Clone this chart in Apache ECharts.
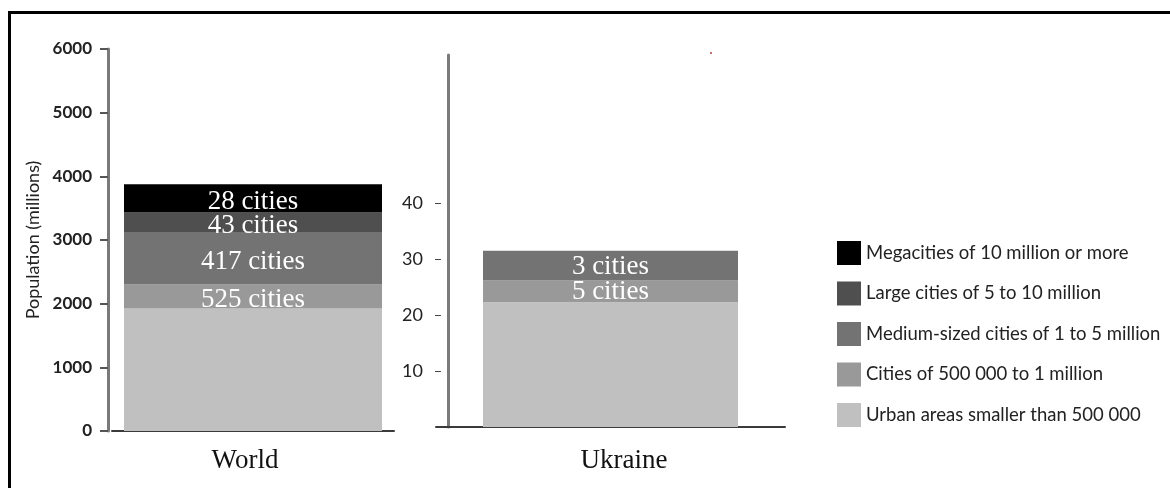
<!DOCTYPE html>
<html>
<head>
<meta charset="utf-8">
<script src="https://cdn.jsdelivr.net/npm/echarts@6/dist/echarts.min.js"></script>
<style>
html,body{margin:0;padding:0;background:#fff;}
#chart{position:absolute;left:0;top:0;width:1170px;height:488px;}
#frame{position:absolute;left:8px;top:11px;right:0;bottom:0;border-top:3px solid #000;border-left:3px solid #000;pointer-events:none;}
</style>
</head>
<body>
<div id="chart"></div>
<div id="frame"></div>
<script>
// ---- data ----
const seriesNames = [
  'Urban areas smaller than 500 000',
  'Cities of 500 000 to 1 million',
  'Medium-sized cities of 1 to 5 million',
  'Large cities of 5 to 10 million',
  'Megacities of 10 million or more'
];
const legendOrder = seriesNames.slice().reverse();
const worldValues   = [1925, 375, 815, 315, 445];   // population, millions
const ukraineValues = [22.3, 3.9, 5.3, 0, 0];       // population, millions
const worldCities   = ['', '525 cities', '417 cities', '43 cities', '28 cities'];
const ukraineCities = ['', '5 cities', '3 cities', '', ''];
const worldCategory = ['World'];
const ukraineCategory = ['Ukraine'];
const worldTicks = [0, 1000, 2000, 3000, 4000, 5000, 6000];
const ukraineTicks = [10, 20, 30, 40];
const colors = ['#c0c0c0', '#999999', '#737373', '#4f4f4f', '#000000'];

const chart = echarts.init(document.getElementById('chart'), null, {renderer: 'canvas'});

const labelStyle = {
  show: true, position: 'inside', color: '#ffffff',
  fontFamily: 'Liberation Serif', fontSize: 27, offset: [0, 3]
};

const series = [];
seriesNames.forEach((name, i) => {
  series.push({
    name, type: 'bar', stack: 'world', xAxisIndex: 0, yAxisIndex: 0,
    barWidth: 258, itemStyle: {color: colors[i]},
    label: Object.assign({}, labelStyle, {formatter: () => worldCities[i]}),
    data: [worldValues[i]]
  });
});
seriesNames.forEach((name, i) => {
  series.push({
    name, type: 'bar', stack: 'ukraine', xAxisIndex: 1, yAxisIndex: 1,
    barWidth: 255, itemStyle: {color: colors[i]},
    label: Object.assign({}, labelStyle, {offset: [0, 1], formatter: () => ukraineCities[i]}),
    data: [ukraineValues[i]]
  });
});

chart.setOption({
  animation: false,
  backgroundColor: '#ffffff',
  grid: [
    {left: 112, top: 49, width: 282, height: 382},
    {left: 436, top: 55, width: 349, height: 372}
  ],
  xAxis: [
    {gridIndex: 0, type: 'category', data: worldCategory,
     axisLine: {lineStyle: {color: '#3a3a3a', width: 2}}, axisTick: {show: false},
     axisLabel: {color: '#111', fontFamily: 'Liberation Serif', fontSize: 27, margin: 16, padding: [0, 16, 0, 0]}},
    {gridIndex: 1, type: 'category', data: ukraineCategory,
     axisLine: {lineStyle: {color: '#3a3a3a', width: 2}}, axisTick: {show: false},
     axisLabel: {color: '#111', fontFamily: 'Liberation Serif', fontSize: 27, margin: 20, padding: [0, 0, 0, 27]}}
  ],
  yAxis: [
    {gridIndex: 0, type: 'value', position: 'left', min: 0, max: 6000, interval: 1000, offset: 4,
     name: 'Population (millions)', nameLocation: 'middle', nameGap: 66,
     nameTextStyle: {color: '#222', fontFamily: 'Lato', fontSize: 18},
     axisLine: {show: true, lineStyle: {color: '#7a7a7a', width: 3}},
     axisTick: {show: true, length: 8, lineStyle: {color: '#555', width: 2}},
     axisLabel: {color: '#222', fontFamily: 'Lato', fontWeight: 'bold', fontSize: 17, margin: 16,
                 customValues: worldTicks, formatter: v => String(v)},
     splitLine: {show: false}},
    {gridIndex: 1, type: 'value', position: 'left', min: 0, max: 66.5, offset: -12,
     axisLine: {show: true, lineStyle: {color: '#7a7a7a', width: 3}},
     axisTick: {show: false}, axisLabel: {show: false}, splitLine: {show: false}},
    {gridIndex: 1, type: 'value', position: 'left', min: 0, max: 66.5, offset: -5,
     axisLine: {show: false},
     axisTick: {show: true, length: 6, customValues: ukraineTicks, lineStyle: {color: '#444', width: 1}},
     axisLabel: {color: '#222', fontFamily: 'Lato', fontSize: 18, margin: 18, customValues: ukraineTicks,
                 formatter: v => String(v)},
     splitLine: {show: false}}
  ],
  legend: {
    orient: 'vertical', left: 832, top: 236,
    itemWidth: 24, itemHeight: 24, itemGap: 16.5,
    icon: 'rect', data: legendOrder,
    textStyle: {color: '#222', fontFamily: 'Lato', fontSize: 18.5, padding: [0, 0, 0, 0]},
    selectedMode: false
  },
  graphic: [
    {type: 'rect', left: 710, top: 52, shape: {width: 2, height: 2}, style: {fill: '#c07070'}, silent: true}
  ],
  series
});
</script>
</body>
</html>
